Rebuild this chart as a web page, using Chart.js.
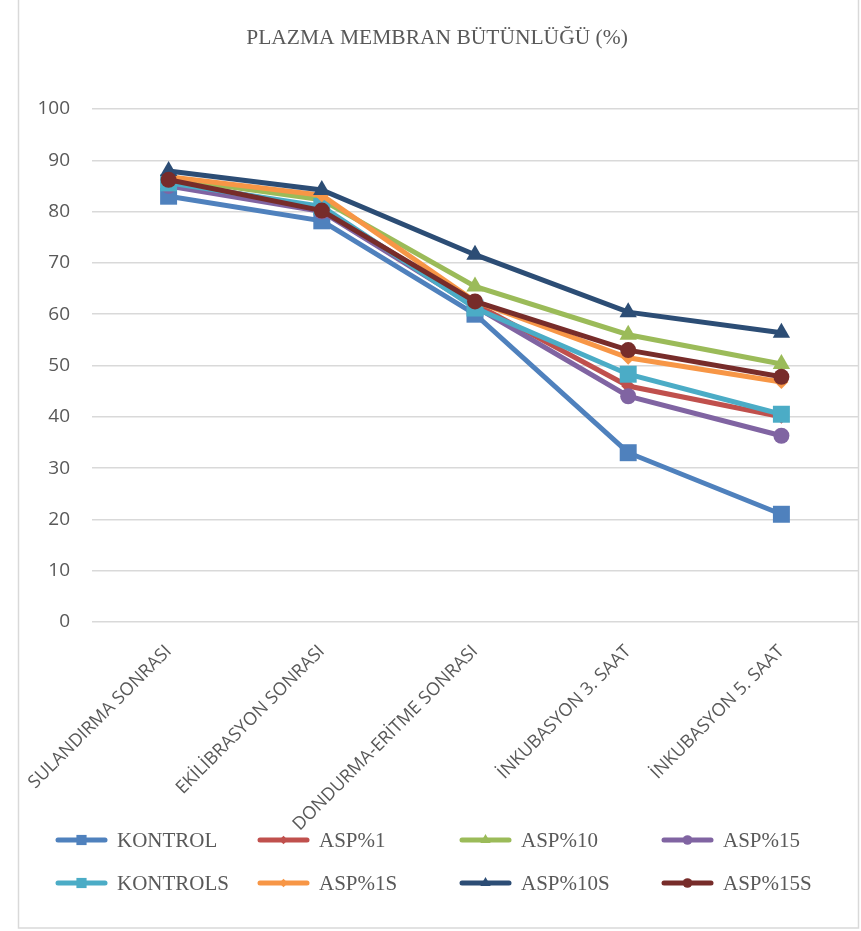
<!DOCTYPE html>
<html>
<head>
<meta charset="utf-8">
<script src="https://cdn.jsdelivr.net/npm/chart.js@4.4.1/dist/chart.umd.min.js"></script>
<style>
  html, body { margin: 0; padding: 0; background: #ffffff; }
  #wrap { position: absolute; left: 0; top: 0; width: 861px; height: 931px; }
</style>
</head>
<body>
<div id="wrap"><canvas id="c" width="861" height="931"></canvas></div>
<script>
const categories = ['SULANDIRMA SONRASI', 'EKİLİBRASYON SONRASI', 'DONDURMA-ERİTME SONRASI', 'İNKUBASYON 3. SAAT', 'İNKUBASYON 5. SAAT'];
const seriesNames = ['KONTROL', 'ASP%1', 'ASP%10', 'ASP%15', 'KONTROLS', 'ASP%1S', 'ASP%10S', 'ASP%15S'];
const KONTROL  = [83.0, 78.2, 60.0, 33.0, 21.0];
const ASP1     = [86.0, 80.5, 62.0, 46.0, 40.0];
const ASP10    = [86.5, 82.3, 65.4, 56.0, 50.3];
const ASP15    = [85.0, 80.0, 61.5, 44.0, 36.3];
const KONTROLS = [85.6, 81.0, 61.2, 48.3, 40.5];
const ASP1S    = [86.8, 83.2, 62.5, 51.5, 46.8];
const ASP10S   = [87.9, 84.2, 71.6, 60.4, 56.4];
const ASP15S   = [86.2, 80.2, 62.5, 53.0, 47.8];
const yTicks = [0, 10, 20, 30, 40, 50, 60, 70, 80, 90, 100];

const seriesValues = [KONTROL, ASP1, ASP10, ASP15, KONTROLS, ASP1S, ASP10S, ASP15S];
const colors = ['#4F81BD', '#C0504D', '#9BBB59', '#8064A2', '#4BACC6', '#F79646', '#2C4D75', '#772C2A'];
const markers = ['rect', 'rectRot', 'triangle', 'circle', 'rect', 'rectRot', 'triangle', 'circle'];
const radii = [12, 7, 10, 8, 12, 7, 10, 8];

const datasets = seriesNames.map((name, i) => ({
  label: name,
  data: seriesValues[i],
  borderColor: colors[i],
  backgroundColor: colors[i],
  borderWidth: 5,
  pointStyle: markers[i],
  pointRadius: radii[i],
  pointBorderWidth: 0,
  pointBackgroundColor: colors[i],
  pointBorderColor: colors[i],
  tension: 0,
  order: seriesNames.length - i
}));

const frame = {
  id: 'frame',
  beforeDraw(chart) {
    const ctx = chart.ctx;
    ctx.save();
    ctx.fillStyle = '#ffffff';
    ctx.fillRect(0, 0, chart.width, chart.height);
    ctx.strokeStyle = '#d9d9d9';
    ctx.lineWidth = 1.5;
    ctx.strokeRect(18.5, -2, 840, 930);
    ctx.restore();
  }
};

const gridLegend = {
  id: 'gridLegend',
  afterDraw(chart) {
    const ctx = chart.ctx;
    ctx.save();
    const colX = [58, 260, 462, 664];
    const rowY = [840, 883];
    chart.data.datasets.forEach((ds, i) => {
      const x = colX[i % 4];
      const y = rowY[Math.floor(i / 4)];
      ctx.strokeStyle = ds.borderColor;
      ctx.lineWidth = 5;
      ctx.lineCap = 'round';
      ctx.beginPath();
      ctx.moveTo(x, y);
      ctx.lineTo(x + 47, y);
      ctx.stroke();
      ctx.fillStyle = ds.borderColor;
      Chart.helpers.drawPoint(ctx, { pointStyle: ds.pointStyle, radius: ds.pointRadius * 0.6, rotation: 0, borderWidth: 0 }, x + 23.5, y);
      ctx.fillStyle = '#595959';
      ctx.font = '21px "Liberation Serif"';
      ctx.textBaseline = 'middle';
      ctx.textAlign = 'left';
      ctx.fillText(ds.label, x + 59, y + 1);
    });
    ctx.restore();
  }
};

new Chart(document.getElementById('c'), {
  type: 'line',
  data: { labels: categories, datasets },
  options: {
    responsive: false,
    animation: false,
    layout: { autoPadding: false, padding: { left: 16, right: 3, top: 0, bottom: 59 } },
    plugins: {
      legend: { display: false },
      tooltip: { enabled: false },
      title: {
        display: true,
        text: 'PLAZMA MEMBRAN BÜTÜNLÜĞÜ (%)',
        color: '#595959',
        font: { family: '"Liberation Serif"', size: 21.5, weight: 'normal' },
        padding: { top: 25, bottom: 58.2 }
      }
    },
    scales: {
      x: {
        offset: true,
        grid: { display: false, drawTicks: false },
        border: { display: false },
        ticks: {
          color: '#595959',
          font: { family: '"Open Sans"', size: 18 },
          minRotation: 45,
          maxRotation: 45,
          padding: 19,
          autoSkip: false
        },
        afterFit(s) { s.height = 250; s.paddingLeft = 0; s.paddingRight = 0; }
      },
      y: {
        min: 0,
        max: 100,
        afterBuildTicks(s) { s.ticks = yTicks.map(v => ({ value: v })); },
        grid: { color: '#d9d9d9', lineWidth: 1.5, drawTicks: false },
        border: { display: false },
        ticks: {
          color: '#595959',
          font: { family: '"Open Sans"', size: 19 },
          padding: 22
        },
        afterFit(s) { s.width = 76; }
      }
    }
  },
  plugins: [frame, gridLegend]
});
</script>
</body>
</html>
